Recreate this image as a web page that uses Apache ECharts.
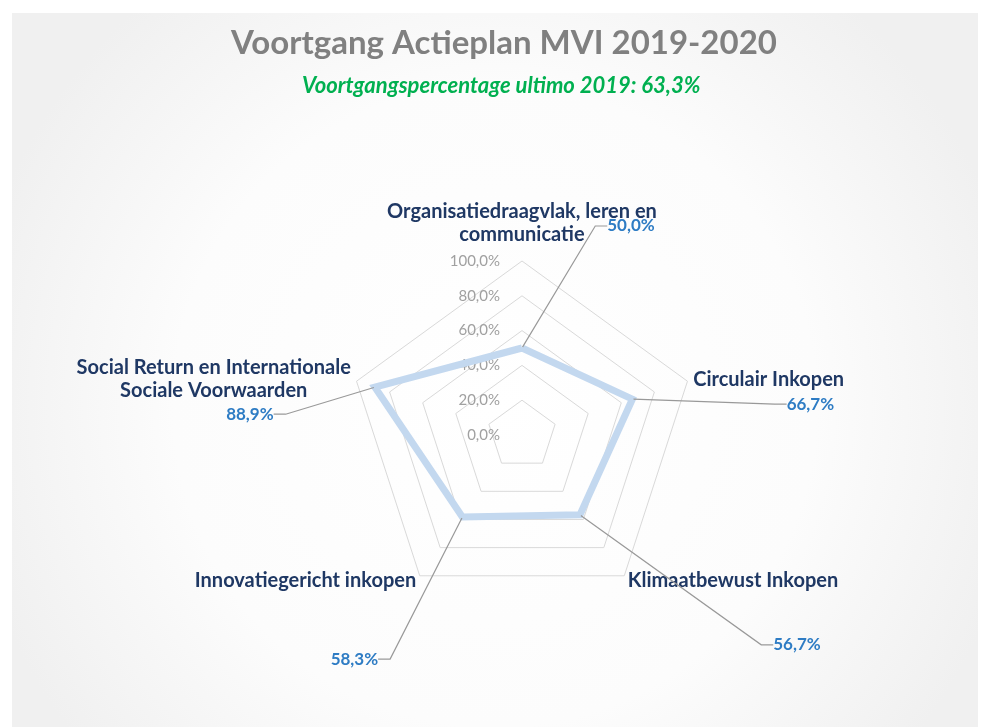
<!DOCTYPE html>
<html>
<head>
<meta charset="utf-8">
<script src="https://cdn.jsdelivr.net/npm/echarts@6/dist/echarts.min.js"></script>
<style>
html,body{margin:0;padding:0;background:#fff;}
#chart{width:982px;height:727px;}
</style>
</head>
<body>
<div id="chart"></div>
<script>
// ---- data ----
var categories = [
  'Organisatiedraagvlak, leren en\ncommunicatie',
  'Social Return en Internationale\nSociale Voorwaarden',
  'Innovatiegericht inkopen',
  'Klimaatbewust Inkopen',
  'Circulair Inkopen'
];
var values = [50.0, 88.9, 58.3, 56.7, 66.7];
var axisMin = 0;
var axisMax = 100;
var axisStep = 20;
var titleText = 'Voortgang Actieplan MVI 2019-2020';
var subtitleText = 'Voortgangspercentage ultimo 2019: 63,3%';

// ---- layout (label offsets from each vertex) ----
var labelOffsets = [[109, -122], [-125, 27], [-108, 142], [217, 130], [178, 5]];

function pct(v) { return v.toFixed(1).replace('.', ',') + '%'; }
var labelTexts = values.map(pct);

var chart = echarts.init(document.getElementById('chart'), null, {renderer: 'canvas'});

var option = {
  backgroundColor: '#ffffff',
  animation: false,
  graphic: [{
    type: 'rect', z: -10, silent: true,
    shape: {x: 12, y: 13, width: 966, height: 714},
    style: {
      fill: new echarts.graphic.RadialGradient(0.5, 0.55, 0.75, [
        {offset: 0, color: '#ffffff'},
        {offset: 0.6, color: '#fcfcfc'},
        {offset: 1, color: '#f0f0f0'}
      ])
    }
  }],
  title: [{
    text: titleText,
    left: 231, top: 27,
    padding: 0,
    textStyle: {fontFamily: 'Lato', fontWeight: 'bold', fontSize: 33, color: '#808080'}
  }, {
    text: subtitleText,
    left: 302, top: 75,
    padding: 0,
    textStyle: {fontFamily: 'Lato', fontWeight: 'bold', fontStyle: 'italic', fontSize: 22, color: '#00B050'}
  }],
  radar: {
    center: [522, 435],
    radius: 174,
    startAngle: 90,
    shape: 'polygon',
    splitNumber: 5,
    nameGap: 6,
    axisName: {
      fontFamily: 'Lato', fontWeight: 'bold', fontSize: 20, color: '#1F3864', lineHeight: 23,
      padding: [8, 0, 8, 0],
      formatter: function (name) {
        var lines = name.split('\n');
        return lines.map(function (l) { return '{c|' + l + '}'; }).join('\n');
      },
      rich: {c: {align: 'center', fontFamily: 'Lato', fontWeight: 'bold', fontSize: 20, color: '#1F3864', lineHeight: 23}}
    },
    axisLine: {show: false},
    axisTick: {show: false},
    splitArea: {show: false},
    splitLine: {lineStyle: {color: '#D9D9D9', width: 1}},
    axisLabel: {
      show: true, margin: 22,
      fontFamily: 'Lato', fontSize: 15, color: '#A0A0A0',
      formatter: function (v) { return pct(v); }
    },
    indicator: categories.map(function (c, i) {
      var ind = {name: c, min: axisMin, max: axisMax, interval: axisStep};
      if (i > 0) ind.axisLabel = {show: false};
      return ind;
    })
  },
  series: [{
    type: 'radar',
    symbol: 'circle',
    symbolSize: 2,
    itemStyle: {color: '#C3D8EF'},
    lineStyle: {color: '#C3D8EF', width: 7, join: 'miter'},
    label: {
      show: true,
      position: 'inside',
      fontFamily: 'Lato', fontWeight: 'bold', fontSize: 17, color: '#2E7CC4',
      formatter: function (p) { return pct(p.value); }
    },
    labelLine: {show: true, length2: 12, lineStyle: {color: '#999999', width: 1.2}},
    labelLayout: function (p) {
      var i = labelTexts.indexOf(p.text);
      if (i < 0) return {};
      return {dx: labelOffsets[i][0], dy: labelOffsets[i][1]};
    },
    data: [{value: values, name: 'Voortgang'}]
  }]
};
chart.setOption(option);
</script>
</body>
</html>
